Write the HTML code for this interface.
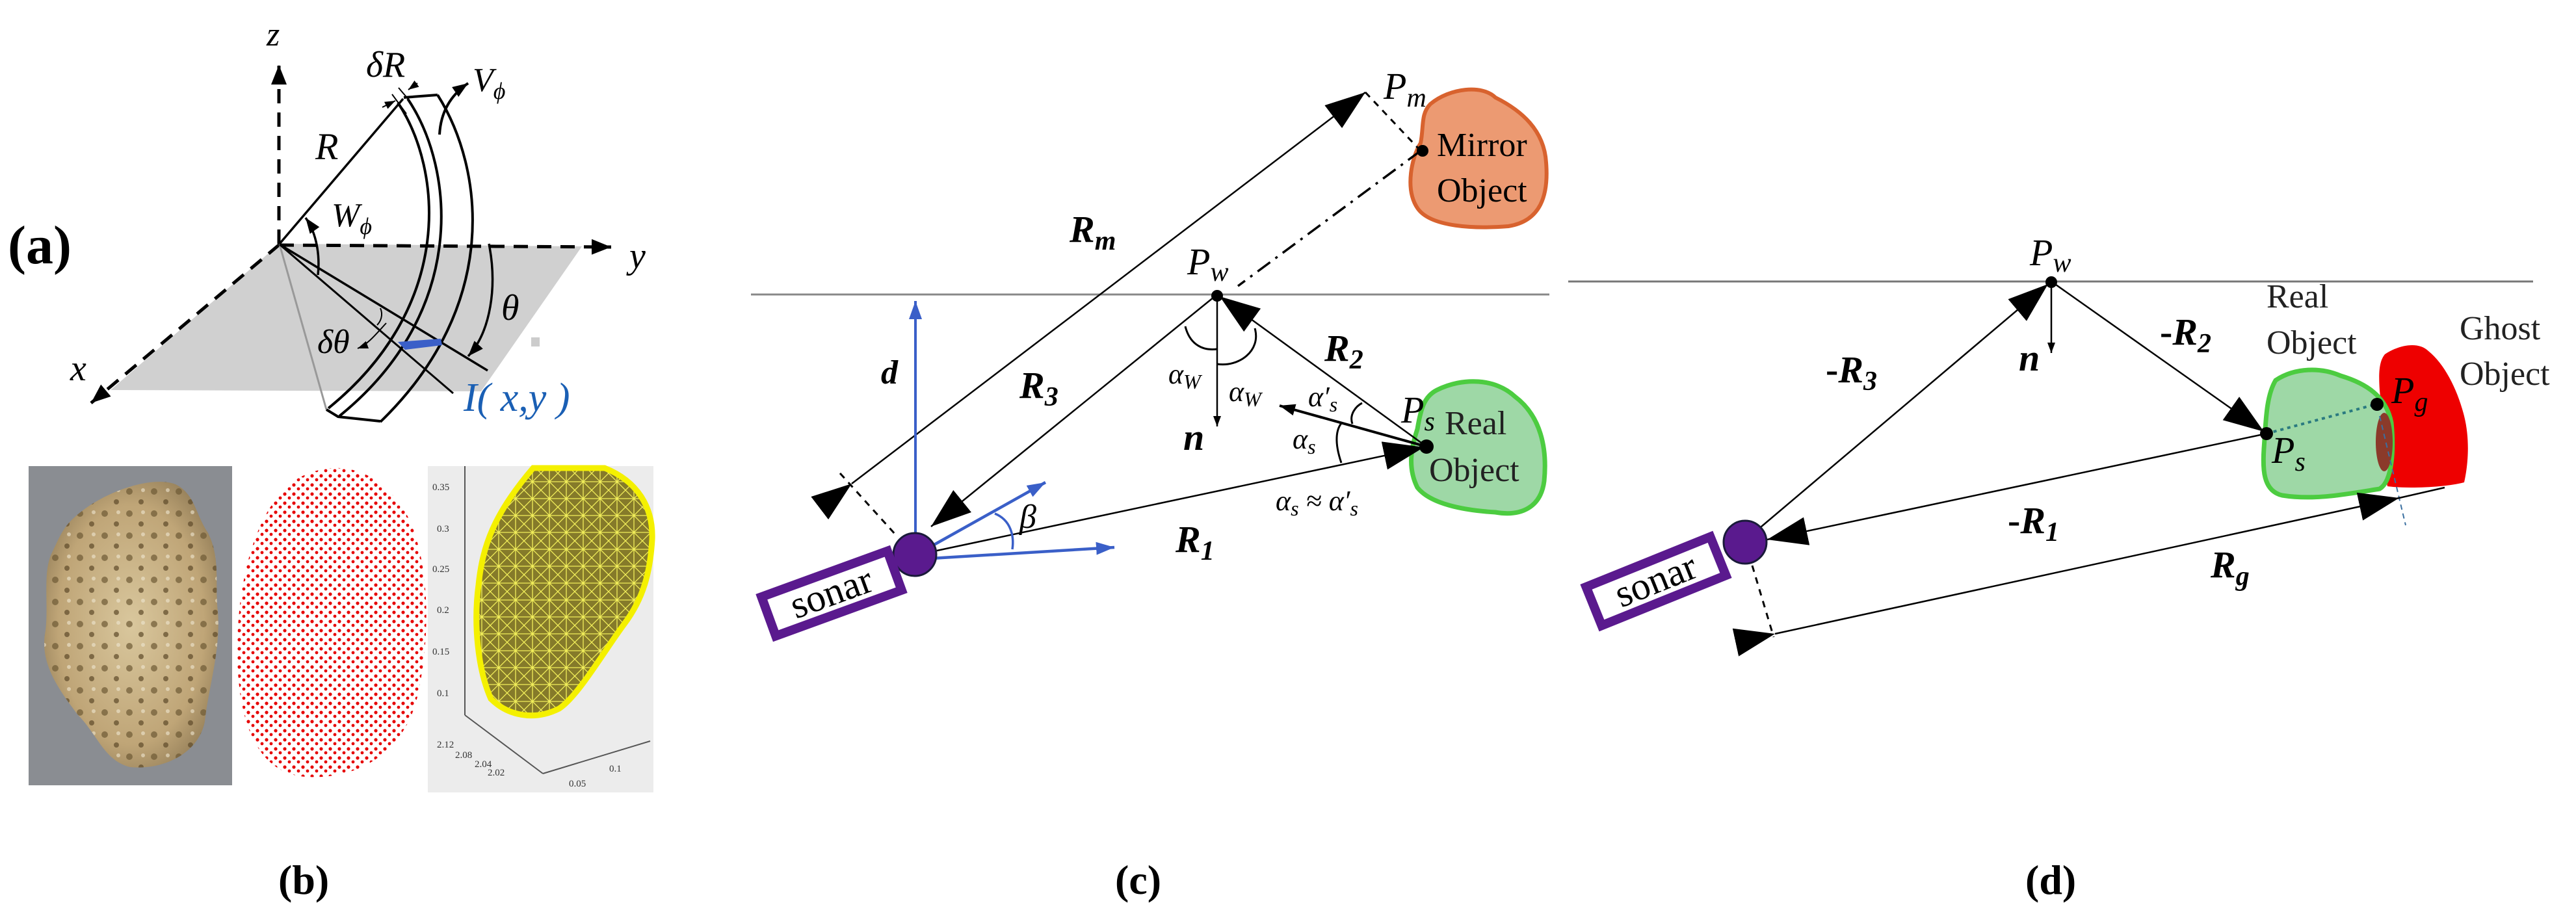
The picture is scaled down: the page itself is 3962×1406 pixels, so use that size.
<!DOCTYPE html>
<html><head><meta charset="utf-8"><style>
html,body{margin:0;padding:0;background:#fff}
svg{display:block}
text{font-family:"Liberation Serif",serif}
.it{font-style:italic}
.b{font-weight:bold}
</style></head><body>
<svg width="3962" height="1406" viewBox="0 0 3962 1406" xmlns="http://www.w3.org/2000/svg">
<defs>
<marker id="ah" markerUnits="userSpaceOnUse" markerWidth="70" markerHeight="50" refX="62" refY="22" orient="auto"><path d="M0,0 L62,22 L0,44 Z" fill="#000"/></marker>
<marker id="ahs" markerUnits="userSpaceOnUse" markerWidth="40" markerHeight="30" refX="30" refY="12" orient="auto"><path d="M0,0 L30,12 L0,24 Z" fill="#000"/></marker>
<marker id="ahm" markerUnits="userSpaceOnUse" markerWidth="30" markerHeight="24" refX="24" refY="9" orient="auto"><path d="M0,0 L24,9 L0,18 Z" fill="#000"/></marker>
<marker id="ahb" markerUnits="userSpaceOnUse" markerWidth="40" markerHeight="30" refX="28" refY="10" orient="auto"><path d="M0,0 L28,10 L0,20 Z" fill="#3a5fc8"/></marker>
<marker id="ahx" markerUnits="userSpaceOnUse" markerWidth="20" markerHeight="16" refX="16" refY="6" orient="auto"><path d="M0,0 L16,6 L0,12 Z" fill="#000"/></marker>
</defs>

<!-- ===== Panel (a) ===== -->
<text x="12" y="405" font-size="84" class="b">(a)</text>
<polygon points="430,375 895,379 740,602 170,600" fill="#d0d0d0"/>
<line x1="429" y1="375" x2="429" y2="100" stroke="#000" stroke-width="5" stroke-dasharray="22,14" marker-end="url(#ahs)"/>
<text x="410" y="70" font-size="52" class="it">z</text>
<line x1="430" y1="377" x2="940" y2="380" stroke="#000" stroke-width="5" stroke-dasharray="22,14" marker-end="url(#ahs)"/>
<text x="968" y="412" font-size="56" class="it">y</text>
<line x1="430" y1="376" x2="140" y2="620" stroke="#000" stroke-width="5" stroke-dasharray="22,14" marker-end="url(#ahs)"/>
<text x="108" y="585" font-size="56" class="it">x</text>
<line x1="430" y1="375" x2="620" y2="152" stroke="#000" stroke-width="3.5"/>
<text x="485" y="245" font-size="58" class="it">R</text>
<line x1="430" y1="376" x2="502" y2="630" stroke="#999" stroke-width="3"/>
<line x1="430" y1="376" x2="750" y2="570" stroke="#000" stroke-width="3.5"/>
<line x1="430" y1="376" x2="697" y2="605" stroke="#000" stroke-width="3"/>
<path d="M612,158 C680,260 700,470 505,628" fill="none" stroke="#000" stroke-width="4"/>
<path d="M627,152 C700,260 720,480 522,640" fill="none" stroke="#000" stroke-width="4"/>
<path d="M673,146 C745,260 770,470 585,649" fill="none" stroke="#000" stroke-width="4"/>
<polyline points="621,150 673,146" fill="none" stroke="#000" stroke-width="4"/>
<polyline points="502,630 520,641 585,648" fill="none" stroke="#000" stroke-width="4"/>
<line x1="603" y1="145" x2="625" y2="175" stroke="#000" stroke-width="2"/>
<line x1="613" y1="135" x2="630" y2="155" stroke="#000" stroke-width="2"/>
<line x1="588" y1="165" x2="608" y2="155" stroke="#000" stroke-width="2" marker-end="url(#ahx)"/>
<line x1="642" y1="128" x2="628" y2="138" stroke="#000" stroke-width="2" marker-end="url(#ahx)"/>
<text x="563" y="118" font-size="56" class="it">δR</text>
<path d="M676,207 C678,170 695,145 720,128" fill="none" stroke="#000" stroke-width="4" marker-end="url(#ahm)"/>
<text x="727" y="140" font-size="52" class="it">V<tspan font-size="36" dy="12">ϕ</tspan></text>
<path d="M489,423 C492,395 488,360 470,335" fill="none" stroke="#000" stroke-width="3.5" marker-end="url(#ahm)"/>
<text x="510" y="348" font-size="52" class="it">W<tspan font-size="36" dy="12">ϕ</tspan></text>
<path d="M752,375 C765,440 755,510 720,548" fill="none" stroke="#000" stroke-width="3.5" marker-end="url(#ahm)"/>
<text x="771" y="492" font-size="56" class="it">θ</text>
<path d="M585,474 C590,485 585,495 580,500" fill="none" stroke="#000" stroke-width="2"/>
<path d="M594,497 C580,512 566,530 550,536" fill="none" stroke="#000" stroke-width="2" marker-end="url(#ahx)"/>
<text x="488" y="543" font-size="52" class="it">δθ</text>
<polygon points="612,526 623,538 680,531 678,521" fill="#3a5fc8"/>
<text x="713" y="632" font-size="62" class="it" fill="#1a5fb4">I( x,y )</text>
<rect x="817" y="519" width="13" height="14" fill="#ccc"/>

<!-- ===== Panel (b) ===== -->
<defs>
<radialGradient id="rock" cx="50%" cy="50%" r="60%"><stop offset="0" stop-color="#d9c79d"/><stop offset="0.7" stop-color="#bfa577"/><stop offset="1" stop-color="#8f7a55"/></radialGradient>
<pattern id="holes" width="38" height="34" patternUnits="userSpaceOnUse"><circle cx="9" cy="8" r="5" fill="#6e5a35" opacity="0.7"/><circle cx="27" cy="24" r="4" fill="#5e4a2a" opacity="0.7"/><circle cx="30" cy="6" r="3" fill="#eee6d0" opacity="0.6"/></pattern>
<pattern id="dots" width="14" height="14" patternUnits="userSpaceOnUse"><circle cx="4" cy="4" r="2.6" fill="#e60000"/><circle cx="11" cy="10" r="2.4" fill="#e60000"/></pattern>
<pattern id="mesh" width="26" height="26" patternUnits="userSpaceOnUse"><rect width="26" height="26" fill="#857a2a"/><path d="M0,0 L26,26 M26,0 L0,26 M13,0 V26 M0,13 H26" stroke="#f2ef5a" stroke-width="1.3"/></pattern>
</defs>
<rect x="44" y="717" width="313" height="491" fill="#8a8d92"/>
<path d="M110,800 C150,760 230,730 270,745 C300,760 300,790 320,820 C340,860 330,900 335,940 C340,1000 320,1060 315,1110 C305,1160 250,1185 200,1180 C160,1170 150,1130 120,1100 C90,1060 60,1020 70,970 C75,930 65,880 80,850 C90,830 95,815 110,800 Z" fill="url(#rock)"/>
<path d="M110,800 C150,760 230,730 270,745 C300,760 300,790 320,820 C340,860 330,900 335,940 C340,1000 320,1060 315,1110 C305,1160 250,1185 200,1180 C160,1170 150,1130 120,1100 C90,1060 60,1020 70,970 C75,930 65,880 80,850 C90,830 95,815 110,800 Z" fill="url(#holes)"/>
<path d="M470,730 C540,700 600,740 630,800 C665,880 660,1000 640,1080 C620,1150 560,1200 470,1195 C400,1190 365,1120 365,1000 C365,880 400,760 470,730 Z" fill="url(#dots)"/>
<rect x="658" y="717" width="347" height="502" fill="#ececec"/>
<line x1="715" y1="717" x2="715" y2="1100" stroke="#555" stroke-width="2"/>
<line x1="715" y1="1100" x2="835" y2="1190" stroke="#555" stroke-width="2"/>
<line x1="835" y1="1190" x2="1000" y2="1140" stroke="#555" stroke-width="2"/>
<g font-family="Liberation Sans,sans-serif" font-size="15" fill="#333">
<text x="665" y="754">0.35</text><text x="672" y="818">0.3</text><text x="665" y="880">0.25</text><text x="672" y="943">0.2</text><text x="665" y="1007">0.15</text><text x="672" y="1071">0.1</text>
<text x="672" y="1150">2.12</text><text x="700" y="1166">2.08</text><text x="730" y="1180">2.04</text><text x="750" y="1193">2.02</text><text x="875" y="1210">0.05</text><text x="937" y="1187">0.1</text>
</g>
<path d="M820,720 L930,720 C980,740 1005,780 1003,830 C1000,880 990,920 960,960 C930,1000 890,1070 860,1090 C820,1110 780,1100 755,1075 C735,1030 728,960 736,900 C742,840 760,790 820,720 Z" fill="url(#mesh)" stroke="#f4f000" stroke-width="9"/>
<text x="428" y="1375" font-size="64" class="b">(b)</text>

<!-- ===== Panel (c) ===== -->
<line x1="1155" y1="453" x2="2383" y2="453" stroke="#888" stroke-width="3"/>
<path d="M2200,160 C2230,135 2280,130 2300,150 C2340,170 2375,200 2378,250 C2382,300 2370,340 2320,348 C2270,352 2200,350 2180,320 C2160,290 2172,240 2185,220 C2190,195 2185,175 2200,160 Z" fill="#ec9a72" stroke="#d8622e" stroke-width="6"/>
<text x="2210" y="240" font-size="52">Mirror</text>
<text x="2210" y="310" font-size="52">Object</text>
<path d="M2210,600 C2250,580 2300,582 2330,610 C2370,640 2380,690 2375,740 C2370,780 2340,795 2300,788 C2250,785 2200,775 2180,750 C2165,720 2170,690 2180,660 C2185,630 2190,610 2210,600 Z" fill="#9ed8a6" stroke="#4ccc40" stroke-width="7"/>
<text x="2222" y="668" font-size="52" fill="#222">Real</text>
<text x="2198" y="740" font-size="52" fill="#222">Object</text>
<line x1="1310" y1="744" x2="2100" y2="142" stroke="#000" stroke-width="2.5" marker-start="url(#ah)" marker-end="url(#ah)"/>
<line x1="1292" y1="728" x2="1377" y2="822" stroke="#000" stroke-width="3" stroke-dasharray="10,9"/>
<line x1="2100" y1="142" x2="2185" y2="232" stroke="#000" stroke-width="3" stroke-dasharray="10,9"/>
<line x1="2185" y1="232" x2="1904" y2="440" stroke="#000" stroke-width="3.5" stroke-dasharray="24,10,4,10"/>
<circle cx="2188" cy="232" r="9" fill="#000"/>
<text x="2128" y="152" font-size="58" class="it">P<tspan font-size="42" dy="12">m</tspan></text>
<text x="1645" y="372" font-size="58" class="it b">R<tspan font-size="42" dy="12">m</tspan></text>
<line x1="1408" y1="825" x2="1408" y2="463" stroke="#3a5fc8" stroke-width="4" marker-end="url(#ahb)"/>
<text x="1355" y="590" font-size="52" class="it b">d</text>
<line x1="1872" y1="453" x2="1432" y2="810" stroke="#000" stroke-width="2.5" marker-end="url(#ah)"/>
<text x="1568" y="612" font-size="58" class="it b">R<tspan font-size="42" dy="12">3</tspan></text>
<line x1="2194" y1="687" x2="1876" y2="456" stroke="#000" stroke-width="2.5" marker-end="url(#ah)"/>
<text x="2037" y="555" font-size="58" class="it b">R<tspan font-size="42" dy="12">2</tspan></text>
<line x1="1872" y1="453" x2="1872" y2="656" stroke="#000" stroke-width="2.5" marker-end="url(#ahx)"/>
<text x="1820" y="692" font-size="58" class="it b">n</text>
<circle cx="1872" cy="455" r="9" fill="#000"/>
<text x="1826" y="422" font-size="58" class="it">P<tspan font-size="42" dy="10">w</tspan></text>
<path d="M1823,502 C1830,530 1850,540 1872,537" fill="none" stroke="#000" stroke-width="3"/>
<path d="M1872,560 C1905,565 1940,540 1930,505" fill="none" stroke="#000" stroke-width="3"/>
<text x="1797" y="590" font-size="44" class="it">α<tspan font-size="32" dy="8">W</tspan></text>
<text x="1890" y="617" font-size="44" class="it">α<tspan font-size="32" dy="8">W</tspan></text>
<line x1="2194" y1="687" x2="1968" y2="624" stroke="#000" stroke-width="4" marker-end="url(#ahm)"/>
<text x="2012" y="625" font-size="44" class="it">α′<tspan font-size="32" dy="8">s</tspan></text>
<path d="M2080,652 C2075,638 2085,625 2095,620" fill="none" stroke="#000" stroke-width="3"/>
<path d="M2063,712 C2052,680 2055,660 2064,650" fill="none" stroke="#000" stroke-width="3"/>
<text x="1988" y="690" font-size="44" class="it">α<tspan font-size="32" dy="8">s</tspan></text>
<line x1="1408" y1="854" x2="2190" y2="688" stroke="#000" stroke-width="2.5" marker-end="url(#ah)"/>
<text x="1808" y="849" font-size="58" class="it b">R<tspan font-size="42" dy="12">1</tspan></text>
<text x="1962" y="785" font-size="44" class="it">α<tspan font-size="32" dy="8">s</tspan><tspan dy="-8"> ≈ α′</tspan><tspan font-size="32" dy="8">s</tspan></text>
<circle cx="2194" cy="687" r="11" fill="#000"/>
<text x="2155" y="650" font-size="58" class="it">P<tspan font-size="42" dy="12">s</tspan></text>
<line x1="1408" y1="854" x2="1608" y2="742" stroke="#3a5fc8" stroke-width="4.5" marker-end="url(#ahb)"/>
<line x1="1416" y1="860" x2="1714" y2="842" stroke="#3a5fc8" stroke-width="4.5" marker-end="url(#ahb)"/>
<path d="M1530,790 C1555,800 1560,825 1557,845" fill="none" stroke="#3a5fc8" stroke-width="3.5"/>
<text x="1568" y="812" font-size="52" class="it">β</text>
<circle cx="1407" cy="853" r="33" fill="#5a1a8e" stroke="#1a1a3a" stroke-width="3"/>
<g transform="translate(1279,913) rotate(-20)">
<rect x="-103" y="-32" width="206" height="64" fill="#fff" stroke="#5a1a8e" stroke-width="14"/>
<text x="0" y="18" font-size="60" text-anchor="middle">sonar</text>
</g>
<text x="1715" y="1375" font-size="64" class="b">(c)</text>

<!-- ===== Panel (d) ===== -->
<line x1="2412" y1="433" x2="3896" y2="433" stroke="#777" stroke-width="3"/>
<path d="M3668,545 C3690,530 3720,525 3735,540 C3760,560 3780,600 3790,640 C3800,680 3795,720 3790,742 C3760,750 3700,752 3672,748 C3660,700 3665,650 3660,600 C3658,570 3660,555 3668,545 Z" fill="#ee0000"/>
<path d="M3500,585 C3530,565 3570,565 3600,578 C3640,590 3670,610 3678,650 C3682,690 3680,740 3660,752 C3610,760 3560,770 3510,762 C3480,755 3480,720 3482,690 C3485,650 3485,610 3500,585 Z" fill="#9ed8a6" stroke="#4ccc40" stroke-width="7"/>
<ellipse cx="3667" cy="680" rx="13" ry="45" fill="#8b3a2a"/>
<text x="3486" y="473" font-size="52" fill="#222">Real</text>
<text x="3486" y="544" font-size="52" fill="#222">Object</text>
<text x="3783" y="522" font-size="52" fill="#222">Ghost</text>
<text x="3783" y="592" font-size="52" fill="#222">Object</text>
<line x1="3486" y1="667" x2="3654" y2="622" stroke="#2a7a80" stroke-width="4" stroke-dasharray="5,6"/>
<line x1="3660" y1="640" x2="3700" y2="808" stroke="#3a6fa0" stroke-width="2" stroke-dasharray="8,6"/>
<circle cx="3486" cy="667" r="10" fill="#000"/>
<circle cx="3656" cy="622" r="10" fill="#000"/>
<text x="3678" y="620" font-size="58" class="it">P<tspan font-size="42" dy="12">g</tspan></text>
<text x="3494" y="712" font-size="58" class="it">P<tspan font-size="42" dy="12">s</tspan></text>
<line x1="2702" y1="816" x2="3150" y2="437" stroke="#000" stroke-width="2.5" marker-end="url(#ah)"/>
<text x="2808" y="588" font-size="58" class="it b"><tspan font-style="normal">-</tspan>R<tspan font-size="42" dy="12">3</tspan></text>
<line x1="3155" y1="433" x2="3155" y2="543" stroke="#000" stroke-width="2.5" marker-end="url(#ahx)"/>
<text x="3105" y="570" font-size="58" class="it b">n</text>
<line x1="3155" y1="433" x2="3482" y2="664" stroke="#000" stroke-width="2.5" marker-end="url(#ah)"/>
<text x="3322" y="530" font-size="58" class="it b"><tspan font-style="normal">-</tspan>R<tspan font-size="42" dy="12">2</tspan></text>
<line x1="3486" y1="667" x2="2718" y2="830" stroke="#000" stroke-width="2.5" marker-end="url(#ah)"/>
<text x="3088" y="820" font-size="58" class="it b"><tspan font-style="normal">-</tspan>R<tspan font-size="42" dy="12">1</tspan></text>
<line x1="2730" y1="975" x2="3690" y2="766" stroke="#000" stroke-width="2.5" marker-start="url(#ah)" marker-end="url(#ah)"/>
<line x1="3690" y1="766" x2="3760" y2="750" stroke="#000" stroke-width="2.5"/>
<line x1="2695" y1="870" x2="2728" y2="980" stroke="#000" stroke-width="3" stroke-dasharray="10,9"/>
<text x="3400" y="888" font-size="58" class="it b">R<tspan font-size="42" dy="12">g</tspan></text>
<circle cx="3155" cy="434" r="9" fill="#000"/>
<text x="3122" y="408" font-size="58" class="it">P<tspan font-size="42" dy="10">w</tspan></text>
<circle cx="2684" cy="834" r="33" fill="#5a1a8e" stroke="#1a1a3a" stroke-width="3"/>
<g transform="translate(2547,894) rotate(-22)">
<rect x="-103" y="-32" width="206" height="64" fill="#fff" stroke="#5a1a8e" stroke-width="14"/>
<text x="0" y="18" font-size="60" text-anchor="middle">sonar</text>
</g>
<text x="3115" y="1375" font-size="64" class="b">(d)</text>
</svg>
</body></html>
